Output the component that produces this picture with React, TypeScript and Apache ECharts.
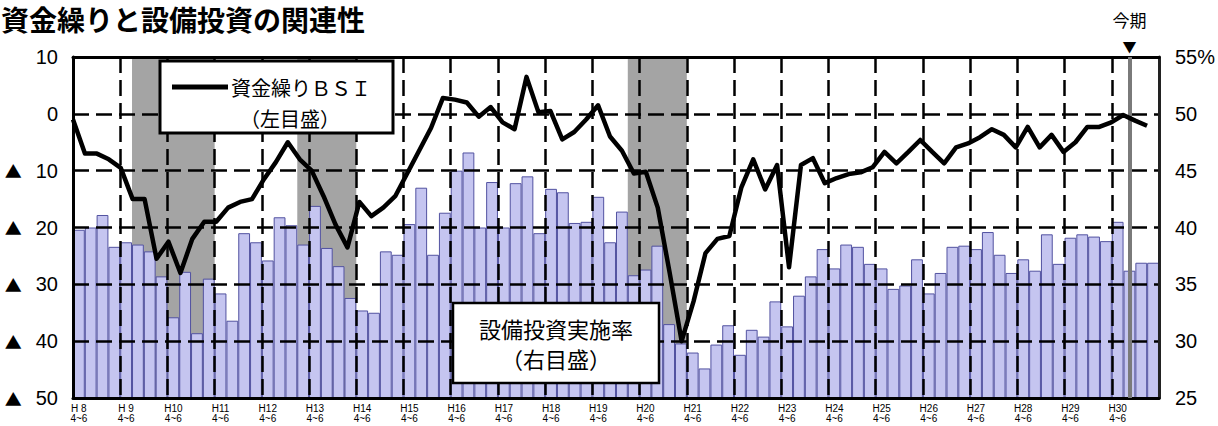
import React, { useEffect, useRef } from "react";
import * as echarts from "echarts";

// ---- data ----
const FISCAL_YEARS = [8, 9, 10, 11, 12, 13, 14, 15, 16, 17, 18, 19, 20, 21, 22, 23, 24, 25, 26, 27, 28, 29, 30];
const QUARTERS = ["4~6", "7~9", "10~12", "1~3"];
const CATEGORIES = FISCAL_YEARS.flatMap((y) => QUARTERS.map((q) => `H${y} ${q}`));

// 設備投資実施率 (%) right axis
const CAPEX_RATE = [
  39.8, 40.0, 41.1, 38.3, 38.7, 38.5, 37.9, 35.7, 32.1, 36.1,
  30.7, 35.5, 34.2, 31.8, 39.5, 38.7, 37.1, 40.9, 40.2, 38.5,
  41.9, 38.2, 36.6, 33.8, 32.7, 32.5, 37.9, 37.6, 40.3, 43.5,
  37.6, 41.3, 45.0, 46.6, 40.0, 44.0, 40.0, 43.9, 44.5, 39.5,
  43.4, 43.1, 40.4, 40.5, 42.7, 38.7, 41.4, 35.8, 36.3, 38.4,
  31.5, 29.8, 29.0, 27.6, 29.7, 31.4, 28.8, 31.0, 30.4, 33.5,
  31.3, 34.0, 35.7, 38.1, 36.4, 38.5, 38.3, 36.8, 36.4, 34.6,
  34.9, 37.2, 34.2, 36.0, 38.3, 38.4, 38.1, 39.6, 37.6, 36.0,
  37.2, 36.2, 39.4, 36.8, 39.1, 39.4, 39.2, 38.8, 40.5, 36.2,
  36.9, 36.9,
];

// 資金繰りBSI left axis
const FUNDING_BSI: (number | null)[] = [
  -1, -7, -7, -8, -9.5, -15, -15, -25.5, -22.5, -28,
  -22, -19, -19, -16.5, -15.5, -15, -11.5, -8.5, -5, -8,
  -10, -14.5, -19.5, -23.5, -15.5, -18, -16.5, -14.5, -10.5, -6.5,
  -2.5, 2.8, 2.5, 2, -0.5, 1.2, -1.5, -2.7, 6.5, 0.3,
  0.5, -4.5, -3.2, -1, 1.5, -4, -6.5, -10.5, -10.2, -16.5,
  -28, -40, -33, -24.5, -22, -21.5, -13, -8, -13.3, -9,
  -27, -9, -7.8, -12.2, -11.3, -10.6, -10.3, -9.4, -6.7, -8.7,
  -6.7, -4.6, -6.7, -8.7, -5.9, -5.2, -4.1, -2.7, -3.7, -5.9,
  -2.3, -5.9, -3.7, -6.7, -5, -2.3, -2.3, -1.5, -0.2, -1.2,
  -2.1, null,
];

// recession shading (bar index ranges, inclusive)
const RECESSIONS = [
  [5, 11],
  [19, 23],
  [47, 51],
];
const CURRENT_INDEX = 89;

const LEFT_MIN = -50;
const LEFT_MAX = 10;
const LEFT_INTERVAL = 10;
const RIGHT_MIN = 25;
const RIGHT_MAX = 55;
const RIGHT_INTERVAL = 5;

const CJK = "'Noto Sans CJK JP', sans-serif";
const NUMF = "'Liberation Sans', Arial, sans-serif";

export default function App() {
  const ref = useRef<HTMLDivElement>(null);

  useEffect(() => {
    if (!ref.current) return;
    const chart = echarts.init(ref.current, null, { renderer: "svg" });

    const gridDash = { color: "#000", width: 2.5, type: [16, 7] as any };

    const option: any = {
      animation: false,
      backgroundColor: "#fff",
      title: {
        text: "資金繰りと設備投資の関連性",
        left: 1,
        top: 5,
        padding: 0,
        textStyle: { fontSize: 28, fontWeight: "bold", fontFamily: CJK, color: "#000" },
      },
      grid: { left: 73, right: 57, top: 57, bottom: 28, show: false },
      xAxis: [
        {
          type: "category",
          data: CATEGORIES,
          boundaryGap: true,
          position: "bottom",
          z: 3,
          axisLine: { onZero: false, lineStyle: { color: "#000", width: 3 } },
          axisTick: { show: false },
          axisLabel: {
            interval: 3,
            margin: 5,
            fontSize: 10,
            lineHeight: 10,
            color: "#000",
            fontFamily: NUMF,
            formatter: (_v: string, idx: number) => {
              const y = FISCAL_YEARS[Math.floor(idx / 4)];
              return `${y < 10 ? "H " + y : "H" + y}\n${QUARTERS[0]}`;
            },
          },
          splitLine: { show: true, interval: 3, lineStyle: gridDash },
        },
        {
          type: "category",
          data: CATEGORIES,
          boundaryGap: false,
          position: "top",
          z: 3,
          axisLine: { show: true, onZero: false, lineStyle: { color: "#000", width: 3 } },
          axisTick: { show: false },
          axisLabel: { show: false },
          splitLine: { show: false },
        },
      ],
      yAxis: [
        {
          type: "value",
          min: LEFT_MIN,
          max: LEFT_MAX,
          interval: LEFT_INTERVAL,
          position: "left",
          z: 3,
          axisLine: { show: true, onZero: false, lineStyle: { color: "#000", width: 3 } },
          axisTick: { show: false },
          axisLabel: {
            margin: 15,
            color: "#000",
            formatter: (v: number) => (v < 0 ? `{t|▲}{n|${-v}}` : `{n|${v}}`),
            rich: {
              t: { fontSize: 17, fontFamily: CJK, color: "#000", padding: [0, 14, 0, 0] },
              n: { fontSize: 20, fontFamily: NUMF, color: "#000" },
            },
          },
          splitLine: { show: true, lineStyle: gridDash },
        },
        {
          type: "value",
          min: RIGHT_MIN,
          max: RIGHT_MAX,
          interval: RIGHT_INTERVAL,
          position: "right",
          z: 3,
          axisLine: { show: true, onZero: false, lineStyle: { color: "#222", width: 3 } },
          axisTick: { show: false },
          axisLabel: {
            margin: 16,
            color: "#000",
            fontSize: 20,
            fontFamily: NUMF,
            formatter: (v: number) => (v === RIGHT_MAX ? `${v}%` : `${v}`),
          },
          splitLine: { show: false },
        },
      ],
      series: [
        {
          type: "custom",
          name: "recession",
          xAxisIndex: 0,
          yAxisIndex: 0,
          z: 1,
          silent: true,
          data: RECESSIONS,
          renderItem: (params: any, api: any) => {
            const s = api.value(0);
            const e = api.value(1);
            const p0 = api.coord([s, 0]);
            const bw = api.size([1, 0])[0];
            const cs = params.coordSys;
            return {
              type: "rect",
              shape: { x: p0[0] - bw / 2, y: cs.y, width: (e - s + 1) * bw, height: cs.height },
              style: { fill: "#a4a4a4" },
            };
          },
        },
        {
          type: "bar",
          name: "設備投資実施率",
          xAxisIndex: 0,
          yAxisIndex: 1,
          z: 2,
          barCategoryGap: "0%",
          data: CAPEX_RATE,
          itemStyle: { color: "#c5c5f0", borderColor: "#5252a0", borderWidth: 1 },
          markLine: {
            silent: true,
            symbol: ["none", "none"],
            data: [{ xAxis: CATEGORIES[CURRENT_INDEX] }],
            lineStyle: { color: "#7a7a7a", width: 4, type: "solid" },
            label: {
              show: true,
              position: "end",
              distance: 3,
              formatter: "{a|今期}\n{b|▼}",
              rich: {
                a: { fontSize: 17, fontFamily: CJK, color: "#000", lineHeight: 38 },
                b: { fontSize: 14, fontFamily: CJK, color: "#000", lineHeight: 16 },
              },
            },
          },
        },
        {
          type: "line",
          name: "資金繰りBSI",
          xAxisIndex: 1,
          yAxisIndex: 0,
          z: 5,
          symbol: "none",
          data: FUNDING_BSI,
          lineStyle: { color: "#000", width: 4.5, join: "round" },
        },
      ],
      graphic: [
        { type: "rect", z: 10, shape: { x: 160, y: 61, width: 233, height: 72 }, style: { fill: "#fff", stroke: "#000", lineWidth: 3 } },
        { type: "line", z: 11, shape: { x1: 172, y1: 87, x2: 228, y2: 87 }, style: { stroke: "#000", lineWidth: 5 } },
        { type: "text", z: 11, x: 231, y: 87, style: { text: "資金繰りＢＳＩ", fontSize: 20, fontFamily: CJK, fill: "#000", align: "left", verticalAlign: "middle" } },
        { type: "text", z: 11, x: 290, y: 118, style: { text: "（左目盛）", fontSize: 20, fontFamily: CJK, fill: "#000", align: "center", verticalAlign: "middle" } },
        { type: "rect", z: 10, shape: { x: 453, y: 303, width: 206, height: 80 }, style: { fill: "#fff", stroke: "#000", lineWidth: 2.5 } },
        { type: "text", z: 11, x: 556, y: 328, style: { text: "設備投資実施率", fontSize: 22, fontFamily: CJK, fill: "#000", align: "center", verticalAlign: "middle" } },
        { type: "text", z: 11, x: 556, y: 358, style: { text: "（右目盛）", fontSize: 22, fontFamily: CJK, fill: "#000", align: "center", verticalAlign: "middle" } },
      ],
    };

    chart.setOption(option);
    return () => chart.dispose();
  }, []);

  return (
    <div
      ref={ref}
      style={{ position: "fixed", left: 0, top: 0, width: 1218, height: 426, background: "#fff" }}
    />
  );
}
